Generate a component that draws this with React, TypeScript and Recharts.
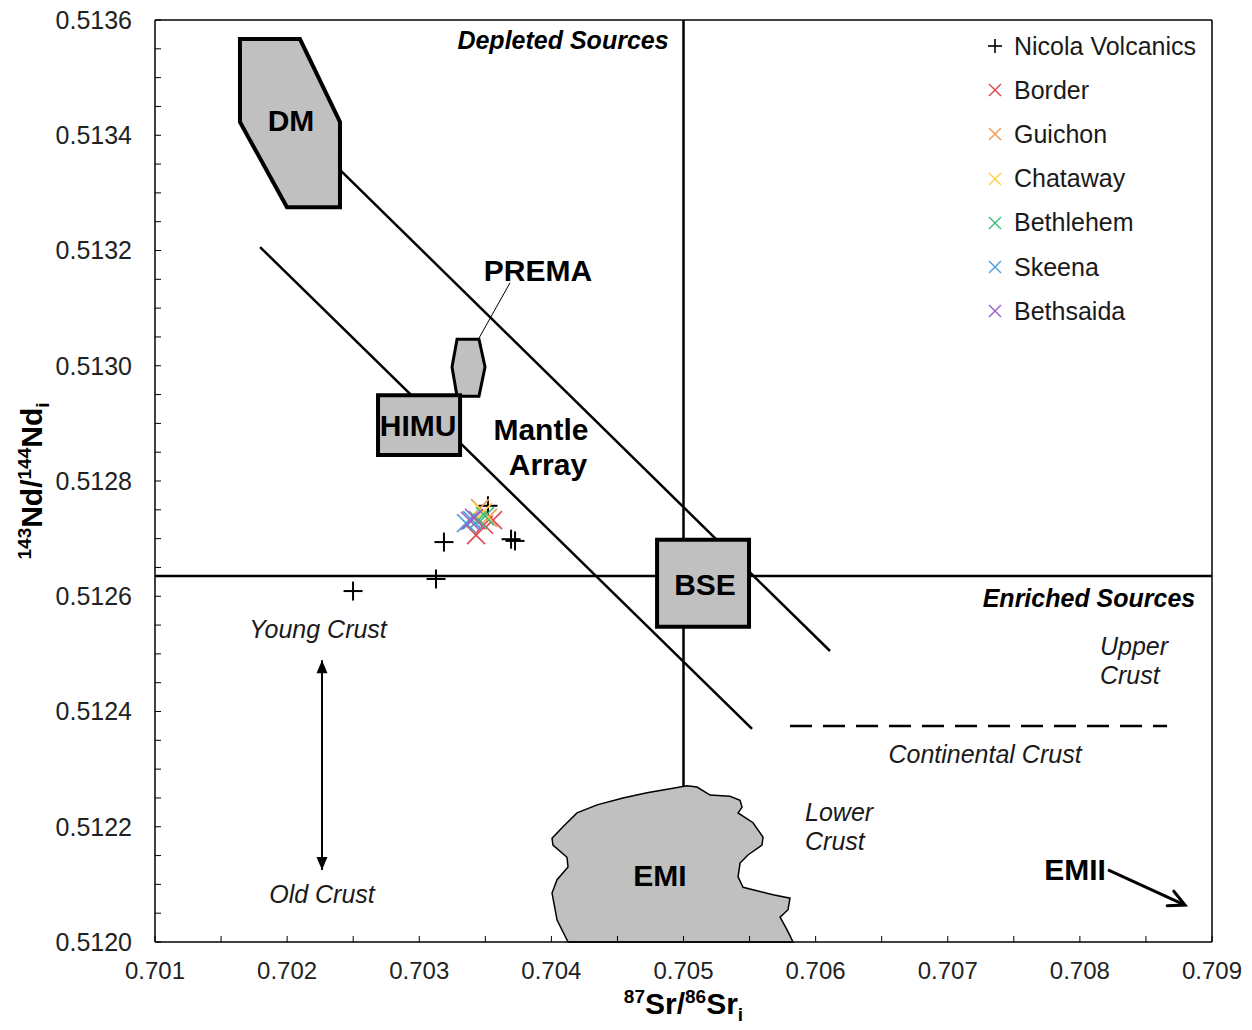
import React from 'react';
import {
  ScatterChart,
  Scatter,
  XAxis,
  YAxis,
  ReferenceLine,
  ReferenceArea,
  ReferenceDot,
  Legend,
} from 'recharts';

const FONT = '"Liberation Sans", Arial, Helvetica, sans-serif';

// ---------- Axis tick labels ----------
const xMajorTicks = [0.701, 0.702, 0.703, 0.704, 0.705, 0.706, 0.707, 0.708, 0.709];
const yMajorTicks = [0.512, 0.5122, 0.5124, 0.5126, 0.5128, 0.513, 0.5132, 0.5134, 0.5136];
const xMinorPerMajor = 2;
const yMinorPerMajor = 4;

const withMinor = (major: number[], n: number) => {
  const out: number[] = [];
  for (let i = 0; i < major.length - 1; i++) {
    for (let k = 0; k < n; k++) out.push(major[i] + ((major[i + 1] - major[i]) * k) / n);
  }
  out.push(major[major.length - 1]);
  return out;
};
const xTicks = withMinor(xMajorTicks, xMinorPerMajor);
const yTicks = withMinor(yMajorTicks, yMinorPerMajor);

// ---------- Data series (87Sr/86Sr i, 143Nd/144Nd i) ----------
const nicolaVolcanics = [
  { sr: 0.70352, nd: 0.512757 },
  { sr: 0.703187, nd: 0.512694 },
  { sr: 0.703695, nd: 0.512699 },
  { sr: 0.703725, nd: 0.512696 },
  { sr: 0.703127, nd: 0.51263 },
  { sr: 0.702499, nd: 0.512609 },
];
const border = [
  { sr: 0.70343, nd: 0.512706 },
  { sr: 0.703558, nd: 0.512732 },
  { sr: 0.70349, nd: 0.512724 },
];
const guichon = [
  { sr: 0.70346, nd: 0.512753 },
  { sr: 0.70352, nd: 0.512736 },
];
const chataway = [{ sr: 0.703483, nd: 0.512746 }];
const bethlehem = [
  { sr: 0.703445, nd: 0.512732 },
  { sr: 0.703498, nd: 0.512739 },
];
const skeena = [
  { sr: 0.703354, nd: 0.512727 },
  { sr: 0.703399, nd: 0.512732 },
];
const bethsaida = [
  { sr: 0.703384, nd: 0.512731 },
  { sr: 0.703415, nd: 0.512736 },
];

const seriesList = [
  { name: 'Nicola Volcanics', data: nicolaVolcanics, color: '#000000', marker: 'plus' },
  { name: 'Border', data: border, color: '#e0474c', marker: 'cross' },
  { name: 'Guichon', data: guichon, color: '#f39a55', marker: 'cross' },
  { name: 'Chataway', data: chataway, color: '#ffcf40', marker: 'cross' },
  { name: 'Bethlehem', data: bethlehem, color: '#3cbf7a', marker: 'cross' },
  { name: 'Skeena', data: skeena, color: '#4c9fe0', marker: 'cross' },
  { name: 'Bethsaida', data: bethsaida, color: '#9a62c8', marker: 'cross' },
];

// ---------- Reservoir fields ----------
const dmField = [
  { sr: 0.701643, nd: 0.513567 },
  { sr: 0.702097, nd: 0.513567 },
  { sr: 0.7024, nd: 0.513423 },
  { sr: 0.7024, nd: 0.513275 },
  { sr: 0.701999, nd: 0.513275 },
  { sr: 0.701643, nd: 0.513423 },
];
const premaField = [
  { sr: 0.703286, nd: 0.513046 },
  { sr: 0.703452, nd: 0.513046 },
  { sr: 0.703498, nd: 0.512998 },
  { sr: 0.703452, nd: 0.512947 },
  { sr: 0.703286, nd: 0.512947 },
  { sr: 0.703248, nd: 0.512998 },
];
const himuBox = { sr1: 0.702688, sr2: 0.703309, nd1: 0.512845, nd2: 0.512949 };
const bseBox = { sr1: 0.7048, sr2: 0.705496, nd1: 0.512547, nd2: 0.512698 };
const emiField = [
  { sr: 0.704126, nd: 0.512 },
  { sr: 0.704043, nd: 0.512038 },
  { sr: 0.704005, nd: 0.512085 },
  { sr: 0.704043, nd: 0.512108 },
  { sr: 0.704126, nd: 0.51213 },
  { sr: 0.704118, nd: 0.512147 },
  { sr: 0.704012, nd: 0.512168 },
  { sr: 0.704005, nd: 0.51218 },
  { sr: 0.704088, nd: 0.5122 },
  { sr: 0.704194, nd: 0.512224 },
  { sr: 0.704346, nd: 0.512238 },
  { sr: 0.704542, nd: 0.51225 },
  { sr: 0.704724, nd: 0.512259 },
  { sr: 0.704921, nd: 0.512267 },
  { sr: 0.705027, nd: 0.512271 },
  { sr: 0.705102, nd: 0.512269 },
  { sr: 0.705201, nd: 0.512255 },
  { sr: 0.705352, nd: 0.512253 },
  { sr: 0.705428, nd: 0.512246 },
  { sr: 0.705443, nd: 0.512234 },
  { sr: 0.705413, nd: 0.512224 },
  { sr: 0.705526, nd: 0.512207 },
  { sr: 0.705602, nd: 0.512182 },
  { sr: 0.705594, nd: 0.512168 },
  { sr: 0.705488, nd: 0.512151 },
  { sr: 0.705428, nd: 0.512137 },
  { sr: 0.705413, nd: 0.512113 },
  { sr: 0.705451, nd: 0.512095 },
  { sr: 0.705678, nd: 0.512082 },
  { sr: 0.705806, nd: 0.512076 },
  { sr: 0.705791, nd: 0.512056 },
  { sr: 0.705731, nd: 0.512043 },
  { sr: 0.705784, nd: 0.512021 },
  { sr: 0.705829, nd: 0.512 },
];

// ---------- Reference lines ----------
const bulkEarthSr = 0.705;
const bulkEarthNd = 0.512635;
const bulkEarthSrLineEnd = 0.51227;
const mantleArrayUpper = [
  { sr: 0.7024, nd: 0.51334 },
  { sr: 0.706109, nd: 0.512505 },
];
const mantleArrayLower = [
  { sr: 0.701795, nd: 0.513206 },
  { sr: 0.705519, nd: 0.51237 },
];
const continentalCrustLine = [
  { sr: 0.705806, nd: 0.512375 },
  { sr: 0.70866, nd: 0.512375 },
];
const premaLeader = [
  { sr: 0.703445, nd: 0.513045 },
  { sr: 0.703687, nd: 0.513144 },
];
const crustArrow = [
  { sr: 0.702264, nd: 0.512489 },
  { sr: 0.702264, nd: 0.512125 },
];
const emiiArrow = [
  { sr: 0.708213, nd: 0.512125 },
  { sr: 0.708796, nd: 0.512064 },
];

// ---------- Text annotations ----------
const boldLabels = [
  { text: 'DM', sr: 0.702029, nd: 0.513425 },
  { text: 'PREMA', sr: 0.703899, nd: 0.513166 },
  { text: 'HIMU', sr: 0.702991, nd: 0.512897 },
  { text: 'Mantle', sr: 0.703921, nd: 0.512889 },
  { text: 'Array', sr: 0.703974, nd: 0.512828 },
  { text: 'BSE', sr: 0.705163, nd: 0.512621 },
  { text: 'EMI', sr: 0.704822, nd: 0.512116 },
  { text: 'EMII', sr: 0.707963, nd: 0.512125 },
];
const sourceLabels = [
  { text: 'Depleted Sources', sr: 0.704088, nd: 0.513564 },
  { text: 'Enriched Sources', sr: 0.708069, nd: 0.512597 },
];
const crustLabelsCentered = [
  { text: 'Young Crust', sr: 0.702234, nd: 0.512543 },
  { text: 'Old Crust', sr: 0.702264, nd: 0.512082 },
  { text: 'Continental Crust', sr: 0.707282, nd: 0.512326 },
];
const crustLabelsLeft = [
  { text: 'Upper', sr: 0.708152, nd: 0.512514 },
  { text: 'Crust', sr: 0.708152, nd: 0.512463 },
  { text: 'Lower', sr: 0.70592, nd: 0.512226 },
  { text: 'Crust', sr: 0.70592, nd: 0.512174 },
];

// ---------- Shapes ----------
type Pt = { sr: number; nd: number };

const bbox = (pts: Pt[]) => {
  const xs = pts.map((p) => p.sr);
  const ys = pts.map((p) => p.nd);
  return {
    minX: Math.min(...xs),
    maxX: Math.max(...xs),
    minY: Math.min(...ys),
    maxY: Math.max(...ys),
  };
};

const polygonShape = (pts: Pt[], style: any) => (props: any) => {
  const { x, y, width, height } = props;
  const b = bbox(pts);
  const px = (v: number) => x + ((v - b.minX) / (b.maxX - b.minX)) * width;
  const py = (v: number) => y + ((b.maxY - v) / (b.maxY - b.minY)) * height;
  const d =
    pts.map((p, i) => `${i ? 'L' : 'M'}${px(p.sr).toFixed(2)},${py(p.nd).toFixed(2)}`).join(' ') + ' Z';
  return <path d={d} {...style} strokeLinejoin="miter" />;
};

const arrowShape =
  (opts: { start: boolean; end: boolean; filled: boolean; width: number; len: number; half: number }) =>
  (props: any) => {
    const { x1, y1, x2, y2 } = props;
    const ang = Math.atan2(y2 - y1, x2 - x1);
    const head = (hx: number, hy: number, a: number, key: string) => {
      const bx = hx - Math.cos(a) * opts.len;
      const by = hy - Math.sin(a) * opts.len;
      const lx = bx + Math.sin(a) * opts.half;
      const ly = by - Math.cos(a) * opts.half;
      const rx = bx - Math.sin(a) * opts.half;
      const ry = by + Math.cos(a) * opts.half;
      return opts.filled ? (
        <path key={key} d={`M${hx},${hy} L${lx},${ly} L${rx},${ry} Z`} fill="#000" stroke="none" />
      ) : (
        <path
          key={key}
          d={`M${lx},${ly} L${hx},${hy} L${rx},${ry}`}
          fill="none"
          stroke="#000"
          strokeWidth={opts.width}
          strokeLinecap="round"
          strokeLinejoin="miter"
        />
      );
    };
    return (
      <g>
        <line x1={x1} y1={y1} x2={x2} y2={y2} stroke="#000" strokeWidth={opts.width} />
        {opts.end && head(x2, y2, ang, 'e')}
        {opts.start && head(x1, y1, ang + Math.PI, 's')}
      </g>
    );
  };

const PlusShape = (props: any) => {
  const { cx, cy } = props;
  const s = 9.5;
  return (
    <g>
      <line x1={cx - s} x2={cx + s} y1={cy} y2={cy} stroke="#000" strokeWidth={2} />
      <line x1={cx} x2={cx} y1={cy - s} y2={cy + s} stroke="#000" strokeWidth={2} />
    </g>
  );
};

const crossShape = (color: string) => (props: any) => {
  const { cx, cy } = props;
  const s = 9;
  return (
    <g>
      <line x1={cx - s} x2={cx + s} y1={cy - s} y2={cy + s} stroke={color} strokeWidth={1.6} />
      <line x1={cx - s} x2={cx + s} y1={cy + s} y2={cy - s} stroke={color} strokeWidth={1.6} />
    </g>
  );
};

const textShape =
  (text: string, style: any, anchor: 'middle' | 'start' | 'end') =>
  (props: any) => (
    <text x={props.cx} y={props.cy} dy="0.35em" textAnchor={anchor} fontFamily={FONT} {...style}>
      {text}
    </text>
  );

// ---------- Axis ticks ----------
const isMajor = (v: number, list: number[]) => list.some((t) => Math.abs(t - v) < 1e-9);

const XTick = (props: any) => {
  const { x, y, payload } = props;
  const v = payload.value;
  return (
    <g>
      <line x1={x} x2={x} y1={y} y2={y - 6} stroke="#000" strokeWidth={1} />
      {isMajor(v, xMajorTicks) && (
        <text x={x} y={y + 37} textAnchor="middle" fontFamily={FONT} fontSize={24} fill="#222">
          {v.toFixed(3)}
        </text>
      )}
    </g>
  );
};

const YTick = (props: any) => {
  const { x, y, payload } = props;
  const v = payload.value;
  return (
    <g>
      <line x1={x} x2={x + 6} y1={y} y2={y} stroke="#000" strokeWidth={1} />
      {isMajor(v, yMajorTicks) && (
        <text x={x - 23} y={y} dy="0.35em" textAnchor="end" fontFamily={FONT} fontSize={25} fill="#222">
          {v.toFixed(4)}
        </text>
      )}
    </g>
  );
};

const XTitle = (props: any) => {
  const vb = props.viewBox || {};
  const cx = vb.x + vb.width / 2;
  const by = vb.y + 72;
  return (
    <text x={cx} y={by} textAnchor="middle" fontFamily={FONT} fontWeight="bold" fill="#000">
      <tspan fontSize={19} dy={-11}>87</tspan>
      <tspan fontSize={30} dy={11}>Sr/</tspan>
      <tspan fontSize={19} dy={-11}>86</tspan>
      <tspan fontSize={30} dy={11}>Sr</tspan>
      <tspan fontSize={19} dy={7}>i</tspan>
    </text>
  );
};

const YTitle = (props: any) => {
  const vb = props.viewBox || {};
  const bx = vb.x + vb.width - 113;
  const cy = vb.y + vb.height / 2;
  return (
    <text
      x={bx}
      y={cy}
      transform={`rotate(-90 ${bx} ${cy})`}
      textAnchor="middle"
      fontFamily={FONT}
      fontWeight="bold"
      fill="#000"
    >
      <tspan fontSize={19} dy={-11}>143</tspan>
      <tspan fontSize={30} dy={11}>Nd/</tspan>
      <tspan fontSize={19} dy={-11}>144</tspan>
      <tspan fontSize={30} dy={11}>Nd</tspan>
      <tspan fontSize={19} dy={7}>i</tspan>
    </text>
  );
};

// ---------- Legend ----------
const renderLegend = () => (
  <div style={{ fontFamily: FONT, fontSize: 25, color: '#1a1a1a' }}>
    {seriesList.map((s) => (
      <div key={s.name} style={{ display: 'flex', alignItems: 'center', height: 44.2, whiteSpace: 'nowrap' }}>
        <svg width={22} height={22} style={{ marginRight: 8, flex: 'none' }}>
          {s.marker === 'plus' ? (
            <g stroke={s.color} strokeWidth={1.6}>
              <line x1={4} x2={18} y1={11} y2={11} />
              <line x1={11} x2={11} y1={4} y2={18} />
            </g>
          ) : (
            <g stroke={s.color} strokeWidth={1.4}>
              <line x1={5} x2={17} y1={5} y2={17} />
              <line x1={5} x2={17} y1={17} y2={5} />
            </g>
          )}
        </svg>
        <span>{s.name}</span>
      </div>
    ))}
  </div>
);

const segProps = (seg: Pt[]) => [
  { x: seg[0].sr, y: seg[0].nd },
  { x: seg[1].sr, y: seg[1].nd },
];

const fieldFill = '#c0c0c0';

export default function App() {
  return (
    <div style={{ position: 'absolute', left: 0, top: 0, width: 1252, height: 1030, background: '#fff' }}>
      <ScatterChart width={1252} height={1030} margin={{ top: 20, right: 40, bottom: 28, left: 55 }}>
        <XAxis
          type="number"
          dataKey="sr"
          domain={[0.701, 0.709]}
          ticks={xTicks}
          interval={0}
          allowDataOverflow
          tick={<XTick />}
          tickLine={false}
          tickSize={0}
          tickMargin={0}
          axisLine={{ stroke: '#000', strokeWidth: 1.5 }}
          height={60}
          label={{ content: <XTitle /> }}
        />
        <YAxis
          type="number"
          dataKey="nd"
          domain={[0.512, 0.5136]}
          ticks={yTicks}
          interval={0}
          allowDataOverflow
          tick={<YTick />}
          tickLine={false}
          tickSize={0}
          tickMargin={0}
          axisLine={{ stroke: '#000', strokeWidth: 1.5 }}
          width={100}
          label={{ content: <YTitle /> }}
        />

        {/* frame top & right */}
        <ReferenceLine y={0.5136} stroke="#000" strokeWidth={1.5} zIndex={100} />
        <ReferenceLine x={0.709} stroke="#000" strokeWidth={1.5} zIndex={100} />

        {/* background reference lines */}
        <ReferenceLine
          segment={[
            { x: bulkEarthSr, y: 0.5136 },
            { x: bulkEarthSr, y: bulkEarthSrLineEnd },
          ]}
          stroke="#000"
          strokeWidth={2.5}
          zIndex={100}
        />
        <ReferenceLine y={bulkEarthNd} stroke="#000" strokeWidth={2.5} zIndex={100} />
        <ReferenceLine segment={segProps(mantleArrayUpper)} stroke="#000" strokeWidth={2.5} zIndex={100} />
        <ReferenceLine segment={segProps(mantleArrayLower)} stroke="#000" strokeWidth={2.5} zIndex={100} />
        <ReferenceLine
          segment={segProps(continentalCrustLine)}
          stroke="#000"
          strokeWidth={2.5}
          strokeDasharray="22 11"
          zIndex={100}
        />
        <ReferenceLine segment={segProps(premaLeader)} stroke="#000" strokeWidth={1} zIndex={100} />

        {/* reservoir fields */}
        {[
          { pts: dmField, sw: 4 },
          { pts: premaField, sw: 3 },
          { pts: emiField, sw: 1.5 },
        ].map((f, i) => {
          const b = bbox(f.pts);
          return (
            <ReferenceArea
              key={'f' + i}
              x1={b.minX}
              x2={b.maxX}
              y1={b.minY}
              y2={b.maxY}
              ifOverflow="visible"
              zIndex={150}
              shape={polygonShape(f.pts, { fill: fieldFill, stroke: '#000', strokeWidth: f.sw })}
            />
          );
        })}
        {[himuBox, bseBox].map((r, i) => (
          <ReferenceArea
            key={'r' + i}
            x1={r.sr1}
            x2={r.sr2}
            y1={r.nd1}
            y2={r.nd2}
            ifOverflow="visible"
            zIndex={150}
            fill={fieldFill}
            fillOpacity={1}
            stroke="#000"
            strokeWidth={4}
          />
        ))}

        {/* arrows */}
        <ReferenceLine
          segment={segProps(crustArrow)}
          zIndex={160}
          shape={arrowShape({ start: true, end: true, filled: true, width: 2, len: 13, half: 5.5 })}
        />
        <ReferenceLine
          segment={segProps(emiiArrow)}
          zIndex={160}
          shape={arrowShape({ start: false, end: true, filled: false, width: 3, len: 16, half: 8 })}
        />

        {/* data */}
        {seriesList.map((s) => (
          <Scatter
            key={s.name}
            name={s.name}
            data={s.data}
            isAnimationActive={false}
            shape={s.marker === 'plus' ? PlusShape : crossShape(s.color)}
          />
        ))}

        {/* labels */}
        {boldLabels.map((l, i) => (
          <ReferenceDot
            key={'b' + i}
            x={l.sr}
            y={l.nd}
            r={0}
            ifOverflow="visible"
            zIndex={2000}
            shape={textShape(l.text, { fontSize: 30, fontWeight: 'bold', fill: '#000' }, 'middle')}
          />
        ))}
        {sourceLabels.map((l, i) => (
          <ReferenceDot
            key={'s' + i}
            x={l.sr}
            y={l.nd}
            r={0}
            ifOverflow="visible"
            zIndex={2000}
            shape={textShape(
              l.text,
              { fontSize: 25, fontWeight: 'bold', fontStyle: 'italic', fill: '#000' },
              'middle'
            )}
          />
        ))}
        {crustLabelsCentered.map((l, i) => (
          <ReferenceDot
            key={'c' + i}
            x={l.sr}
            y={l.nd}
            r={0}
            ifOverflow="visible"
            zIndex={2000}
            shape={textShape(l.text, { fontSize: 25, fontStyle: 'italic', fill: '#1a1a1a' }, 'middle')}
          />
        ))}
        {crustLabelsLeft.map((l, i) => (
          <ReferenceDot
            key={'l' + i}
            x={l.sr}
            y={l.nd}
            r={0}
            ifOverflow="visible"
            zIndex={2000}
            shape={textShape(l.text, { fontSize: 25, fontStyle: 'italic', fill: '#1a1a1a' }, 'start')}
          />
        ))}

        <Legend
          layout="vertical"
          align="center"
          verticalAlign="middle"
          content={renderLegend}
          wrapperStyle={{ left: 984, top: 24, right: 'auto', bottom: 'auto', width: 250 }}
        />
      </ScatterChart>
    </div>
  );
}
